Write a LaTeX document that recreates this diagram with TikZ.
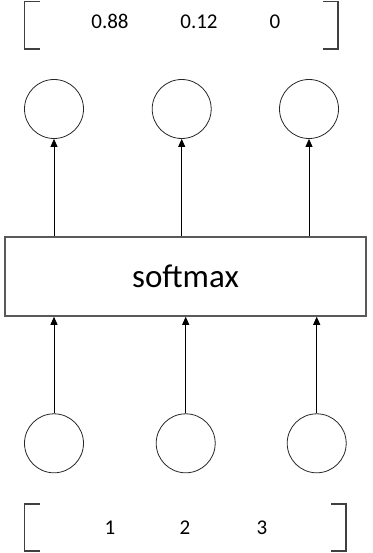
\documentclass[tikz,border=0pt]{standalone}
\usepackage{fontspec}
\setmainfont{Carlito}
\usetikzlibrary{arrows.meta}
\begin{document}
\begin{tikzpicture}[x=1pt,y=1pt,
  neuron/.style={circle,draw=black!85,line width=0.8pt,minimum size=59pt,inner sep=0pt},
  smbox/.style={rectangle,draw=black!65,line width=1.5pt,minimum width=361pt,minimum height=79pt,inner sep=0pt,font=\fontsize{33}{38}\selectfont},
  num/.style={anchor=base,inner sep=0pt,font=\fontsize{21}{25}\selectfont},
  conn/.style={line width=0.8pt,-{Triangle[length=8pt,width=7pt]}},
  brk/.style={draw=black!75,line width=1.5pt}]
\useasboundingbox (0,0) rectangle (372,-553);
% top brackets
\draw[brk] (40,-1.5) -- (24.5,-1.5) -- (24.5,-49) -- (40,-49);
\draw[brk] (323,-1.5) -- (338,-1.5) -- (338,-49) -- (323,-49);
% bottom brackets
\draw[brk] (40,-504) -- (24.5,-504) -- (24.5,-551) -- (40,-551);
\draw[brk] (331,-504) -- (346,-504) -- (346,-551) -- (331,-551);
% output values
\node[num] (t1) at (110,-28.3) {0.88};
\node[num] (t2) at (199,-28.3) {0.12};
\node[num] (t3) at (275,-28.3) {0};
% input values
\node[num] (b1) at (110,-534) {1};
\node[num] (b2) at (185,-534) {2};
\node[num] (b3) at (262,-534) {3};
% output neurons
\node[neuron] (o1) at (54,-109) {};
\node[neuron] (o2) at (181.7,-109) {};
\node[neuron] (o3) at (309,-109) {};
% softmax box
\node[smbox] (sm) at (185.5,-276.5) {softmax};
% input neurons
\node[neuron] (i1) at (54,-443.3) {};
\node[neuron] (i2) at (185.7,-443.3) {};
\node[neuron] (i3) at (316.7,-443.3) {};
% connectors
\draw[conn] (o1.south |- sm.north) -- (o1.south);
\draw[conn] (o2.south |- sm.north) -- (o2.south);
\draw[conn] (o3.south |- sm.north) -- (o3.south);
\draw[conn] (i1.north) -- (i1.north |- sm.south);
\draw[conn] (i2.north) -- (i2.north |- sm.south);
\draw[conn] (i3.north) -- (i3.north |- sm.south);
\end{tikzpicture}
\end{document}
